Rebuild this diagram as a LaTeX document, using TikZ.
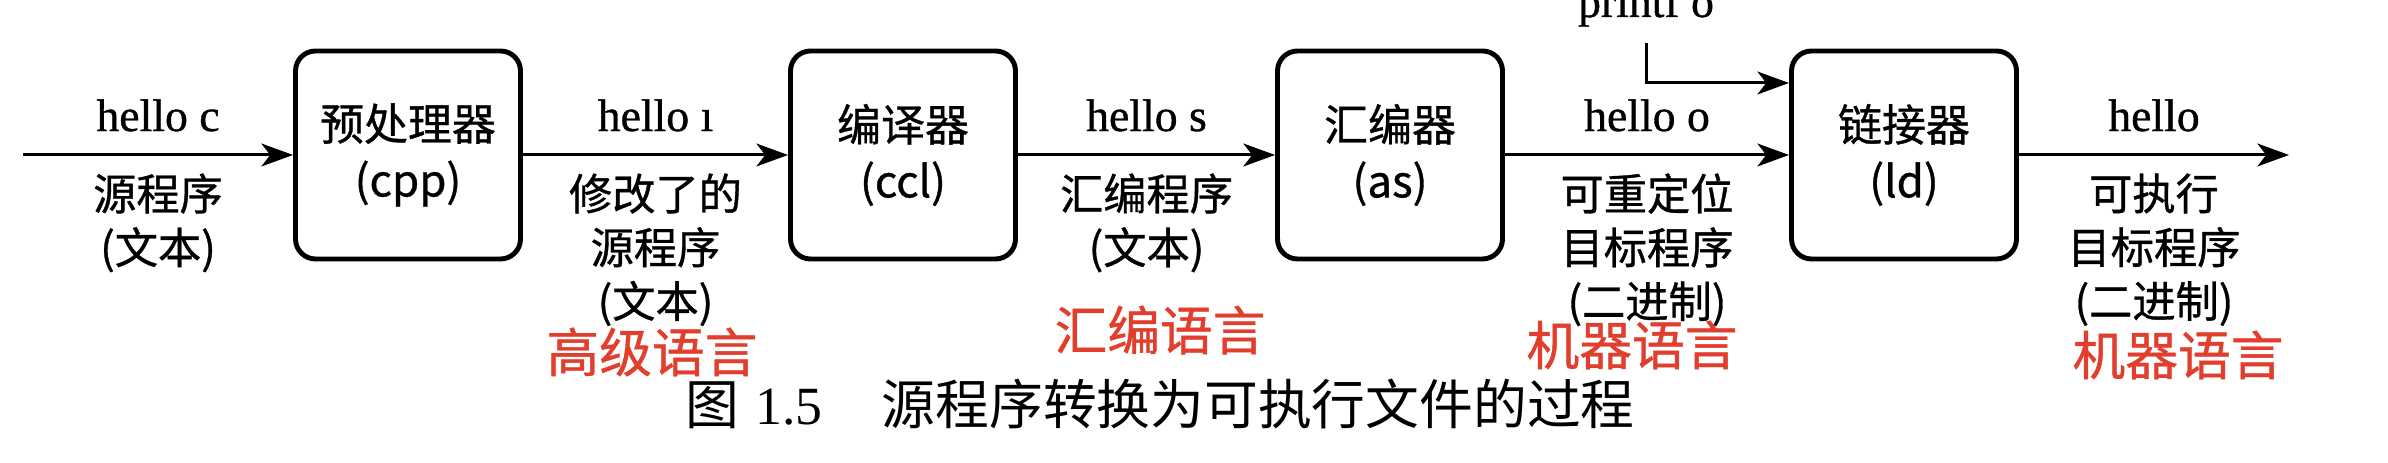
\documentclass[tikz,border=0pt]{standalone}
\usepackage{fontspec}
\setmainfont{Liberation Serif}
\newfontfamily\fname[FakeBold=0.8]{Liberation Serif}
\newfontfamily\cjk[FakeBold=0.8]{Noto Sans CJK SC}
\newfontfamily\cjkcap{Noto Sans CJK SC}
\usetikzlibrary{arrows.meta,positioning,calc}
\definecolor{penred}{RGB}{226,62,45}

\begin{document}
\begin{tikzpicture}[
  box/.style={draw,line width=1.4pt,rounded corners=0.2cm,minimum width=2.25cm,
    minimum height=2.08cm,align=center,font=\cjk\fontsize{12.5}{16}\selectfont},
  flow/.style={line width=0.85pt,-{Stealth[length=9pt,width=6.5pt,inset=2.5pt]}},
  file/.style={above=0.22cm,inner sep=0pt,font=\fname\fontsize{13}{15}\selectfont},
  kind/.style={below=0.17cm,inner sep=0pt,align=center,
    font=\cjk\fontsize{12.3}{15.3}\selectfont},
  note/.style={penred,inner sep=0pt,font=\cjk\fontsize{15}{16}\selectfont}]
  \useasboundingbox (0,0) rectangle (23.88,4.63);
  % translator stages
  \node[box] (cpp) at (4.08,3.08) {预处理器\\(cpp)};
  \node[box] (ccl) at (9.03,3.08) {编译器\\(ccl)};
  \node[box] (as) at (13.90,3.08) {汇编器\\(as)};
  \node[box] (ld) at (19.04,3.08) {链接器\\(ld)};
  % free ends
  \coordinate (src) at (0.23,3.08);
  \coordinate (exe) at (22.89,3.08);
  \node[anchor=base,inner sep=0pt,font=\fname\fontsize{13}{15}\selectfont] (pf) at (16.46,4.46) {printf o};
  % files passed along
  \draw[flow] (src) -- node[file] {hello c} node[kind] {源程序\\(文本)} (cpp);
  \draw[flow] (cpp) -- node[file] {hello ı} node[kind] {修改了的\\源程序\\(文本)} (ccl);
  \draw[flow] (ccl) -- node[file] {hello s} node[kind] {汇编程序\\(文本)} (as);
  \draw[flow] (as) -- node[file] {hello o} node[kind] {可重定位\\目标程序\\(二进制)} (ld);
  \draw[flow] (ld) -- node[file] {hello} node[kind] {可执行\\目标程序\\(二进制)} (exe);
  \draw[flow,shorten <=0.16cm] (pf.south) |- ([yshift=0.72cm]ld.west);
  % handwritten notes
  \node[note] (hl) at (6.52,1.11) {高级语言};
  \node[note] (al) at (11.60,1.33) {汇编语言};
  \node[note] (ml) at (16.32,1.18) {机器语言};
  \node[note] (mlx) at (21.78,1.08) {机器语言};
  % caption
  \node[font=\cjkcap\fontsize{15.3}{17}\selectfont] (cap) at (11.60,0.59)
    {图\hspace{0.3em}{\rmfamily 1.5}\hspace{1.1em}源程序转换为可执行文件的过程};
\end{tikzpicture}
\end{document}
